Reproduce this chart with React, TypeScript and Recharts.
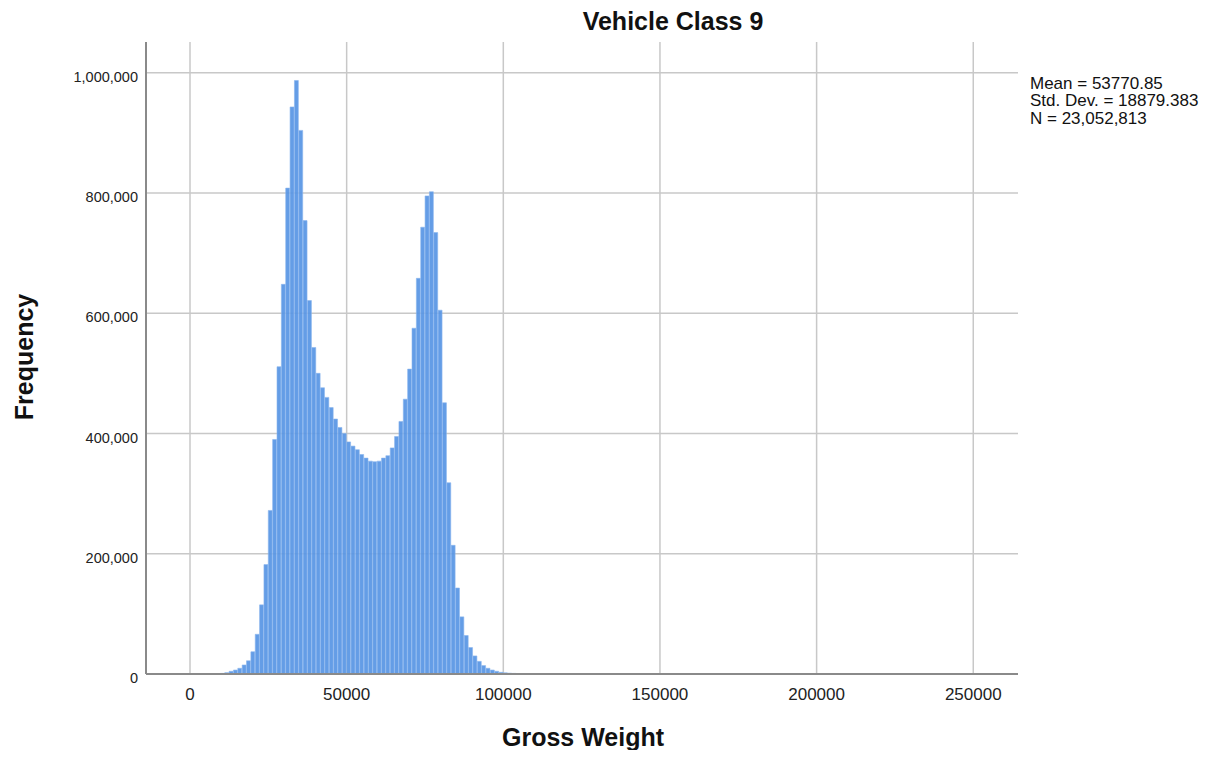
import React from 'react';
import { BarChart, Bar, XAxis, YAxis, CartesianGrid } from 'recharts';

// Histogram bin centres (Gross Weight) and their frequencies
const binCenters = [
  9005, 10395, 11785, 13175, 14565, 15955, 17345, 18735, 20125, 21515,
  22905, 24295, 25685, 27075, 28465, 29855, 31245, 32635, 34025, 35415,
  36805, 38195, 39585, 40975, 42365, 43755, 45145, 46535, 47925, 49315,
  50705, 52095, 53485, 54875, 56265, 57655, 59045, 60435, 61825, 63215,
  64605, 65995, 67385, 68775, 70165, 71555, 72945, 74335, 75725, 77115,
  78505, 79895, 81285, 82675, 84065, 85455, 86845, 88235, 89625, 91015,
  92405, 93795, 95185, 96575, 97965, 99355, 100745, 102135, 103525, 104915,
  106305, 107695, 109085, 110475,
];

const frequencies = [
  500, 1000, 2200, 4500, 6600, 9500, 15000, 22000, 37000, 66000,
  115000, 182000, 272000, 390000, 511000, 648000, 808000, 943000, 987000, 904000,
  754000, 621000, 543000, 500000, 476000, 460000, 443000, 424000, 410000, 400000,
  386000, 379000, 373000, 365000, 359000, 354000, 353000, 354000, 359000, 363000,
  376000, 395000, 420000, 457000, 507000, 575000, 658000, 743000, 795000, 802000,
  734000, 605000, 451000, 318000, 214000, 143000, 95000, 64000, 44000, 30000,
  21000, 14000, 9500, 6600, 4500, 2800, 2000, 1400, 1000, 700,
  500, 400, 300, 200,
];

const binWidth = 1390;
const xTicks = [0, 50000, 100000, 150000, 200000, 250000];
const yTicks = [0, 200000, 400000, 600000, 800000, 1000000];
const xDomain = [-14044, 264280];
const yDomain = [0, 1051000];

const statLines = ['Mean = 53770.85', 'Std. Dev. = 18879.383', 'N = 23,052,813'];

const data = binCenters.map((x, i) => ({ x, freq: frequencies[i] }));

const W = 1200;
const H = 742;
const margin = { top: 34, right: 190, bottom: 46, left: 38 };
const yAxisWidth = 100;
const xAxisHeight = 30;
const plotWidth = W - margin.left - margin.right - yAxisWidth;
const barPx = (binWidth * plotWidth) / (xDomain[1] - xDomain[0]);

const FONT = '"Liberation Sans", Arial, sans-serif';

export default function App() {
  return (
    <div style={{ position: 'relative', width: W, height: H, fontFamily: FONT, background: '#fff' }}>
      <BarChart
        width={W}
        height={H}
        data={data}
        margin={margin}
        barCategoryGap={0}
        barGap={0}
      >
        <CartesianGrid
          horizontalValues={yTicks.slice(1)}
          verticalValues={xTicks}
          stroke="#c8c8c8"
          strokeWidth={1.5}
        />
        <XAxis
          dataKey="x"
          type="number"
          domain={xDomain}
          ticks={xTicks}
          allowDataOverflow
          height={xAxisHeight}
          tickLine={false}
          tickMargin={8}
          axisLine={{ stroke: '#8a8a8a', strokeWidth: 2 }}
          tick={{ fontFamily: FONT, fontSize: 17, fill: '#222' }}
          interval={0}
        />
        <YAxis
          type="number"
          domain={yDomain}
          ticks={yTicks}
          allowDataOverflow
          width={yAxisWidth}
          tickLine={false}
          axisLine={{ stroke: '#8a8a8a', strokeWidth: 2 }}
          tick={{ fontFamily: FONT, fontSize: 14.5, fill: '#222', dy: 4 }}
          tickFormatter={(v: number) => v.toLocaleString('en-US')}
          interval={0}
        />
        <Bar
          dataKey="freq"
          fill="#5896e4"
          fillOpacity={0.93}
          stroke="#8ab5ee"
          strokeWidth={0.6}
          barSize={barPx}
          isAnimationActive={false}
        />
      </BarChart>

      <div
        style={{
          position: 'absolute',
          left: 665,
          top: 13,
          transform: 'translate(-50%, -50%)',
          fontSize: 25,
          fontWeight: 'bold',
          lineHeight: 1,
          whiteSpace: 'nowrap',
          color: '#111',
        }}
      >
        Vehicle Class 9
      </div>

      <div
        style={{
          position: 'absolute',
          left: 16,
          top: 349,
          transform: 'translate(-50%, -50%) rotate(-90deg)',
          fontSize: 25,
          fontWeight: 'bold',
          lineHeight: 1,
          whiteSpace: 'nowrap',
          color: '#111',
        }}
      >
        Frequency
      </div>

      <div
        style={{
          position: 'absolute',
          left: 575,
          top: 729,
          transform: 'translate(-50%, -50%)',
          fontSize: 25,
          fontWeight: 'bold',
          lineHeight: 1,
          whiteSpace: 'nowrap',
          color: '#111',
        }}
      >
        Gross Weight
      </div>

      <div
        style={{
          position: 'absolute',
          left: 1022,
          top: 67,
          fontSize: 17,
          lineHeight: '17.3px',
          whiteSpace: 'nowrap',
          color: '#111',
        }}
      >
        {statLines.map((s) => (
          <div key={s}>{s}</div>
        ))}
      </div>
    </div>
  );
}
